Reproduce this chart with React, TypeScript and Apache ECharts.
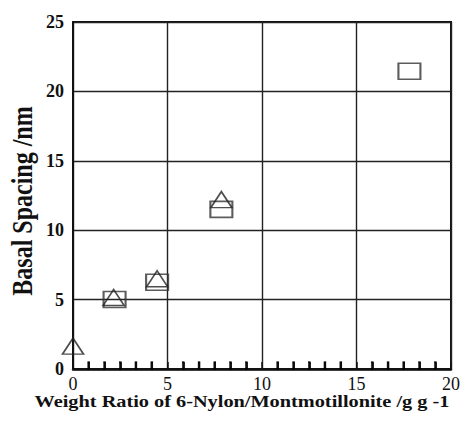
import React, { useEffect, useRef } from "react";
import * as echarts from "echarts";

const squareX = [2.2, 4.45, 7.85, 17.8];
const squareY = [5.0, 6.25, 11.5, 21.45];
const triangleX = [0, 2.15, 4.45, 7.85];
const triangleY = [1.65, 5.15, 6.5, 12.2];
const minorTickX = [
  0.83, 1.67, 2.5, 3.33, 4.17,
  5.83, 6.67, 7.5, 8.33, 9.17,
  10.83, 11.67, 12.5, 13.33, 14.17,
  15.83, 16.67, 17.5, 18.33, 19.17,
];
const xTitle = "Weight Ratio of 6-Nylon/Montmotillonite /g g -1";
const yTitle = "Basal Spacing /nm";

const FONT = "'Liberation Serif', 'Times New Roman', serif";

export default function App() {
  const ref = useRef<HTMLDivElement>(null);
  useEffect(() => {
    if (!ref.current) return;
    const chart = echarts.init(ref.current, undefined, { renderer: "svg" });
    const pts = (xs: number[], ys: number[]) => xs.map((x, i) => [x, ys[i]]);
    chart.setOption({
      animation: false,
      backgroundColor: "#fff",
      grid: {
        left: 73,
        right: 13,
        top: 22,
        bottom: 53,
        show: true,
        borderColor: "#111",
        borderWidth: 2,
        backgroundColor: "transparent",
      },
      xAxis: {
        type: "value",
        min: 0,
        max: 20,
        interval: 5,
        axisLine: { show: true, onZero: false, lineStyle: { color: "#111", width: 2.5 } },
        axisTick: { show: true, inside: true, length: 7, lineStyle: { color: "#111", width: 1.5 } },
        minorTick: { show: true, splitNumber: 6, length: 7, lineStyle: { color: "#111", width: 1.6 } },
        axisLabel: { color: "#111", fontFamily: FONT, fontSize: 18, margin: 6 },
        splitLine: { show: true, lineStyle: { color: "#222", width: 1.4 } },
      },
      yAxis: {
        type: "value",
        min: 0,
        max: 25,
        interval: 5,
        axisLine: { show: true, onZero: false, lineStyle: { color: "#111", width: 2 } },
        axisTick: { show: false },
        axisLabel: { color: "#111", fontFamily: FONT, fontSize: 18, fontWeight: "bold", margin: 9 },
        splitLine: { show: true, lineStyle: { color: "#222", width: 1.4 } },
      },
      graphic: [
        {
          type: "text",
          x: 242,
          y: 402,
          scaleX: 1.27,
          style: {
            text: xTitle,
            fontFamily: FONT,
            fontSize: 16,
            fontWeight: "bold",
            fill: "#111",
            align: "center",
            verticalAlign: "middle",
          },
        },
        {
          type: "text",
          x: 22,
          y: 201,
          rotation: Math.PI / 2,
          scaleY: 1.2,
          style: {
            text: yTitle,
            fontFamily: FONT,
            fontSize: 24,
            fontWeight: "bold",
            fill: "#111",
            align: "center",
            verticalAlign: "middle",
          },
        },
      ],
      series: [
        {
          type: "scatter",
          data: minorTickX.map((v) => [v, 0.25]),
          symbol: "rect",
          symbolSize: [2, 7],
          clip: false,
          silent: true,
          itemStyle: { color: "#000", borderColor: "#000", borderWidth: 0.5 },
          z: 10,
        },
        {
          type: "scatter",
          data: pts(squareX, squareY),
          symbol: "rect",
          symbolSize: [22, 16],
          clip: false,
          itemStyle: { color: "rgba(0,0,0,0)", borderColor: "#333", borderWidth: 1.8 },
          z: 3,
        },
        {
          type: "scatter",
          data: pts(triangleX, triangleY),
          symbol: "triangle",
          symbolSize: [21, 16],
          clip: false,
          itemStyle: { color: "rgba(0,0,0,0)", borderColor: "#222", borderWidth: 1.6 },
          z: 4,
        },
      ],
    });
    return () => chart.dispose();
  }, []);
  return <div ref={ref} style={{ width: 464, height: 422, position: "absolute", left: 0, top: 0 }} />;
}
